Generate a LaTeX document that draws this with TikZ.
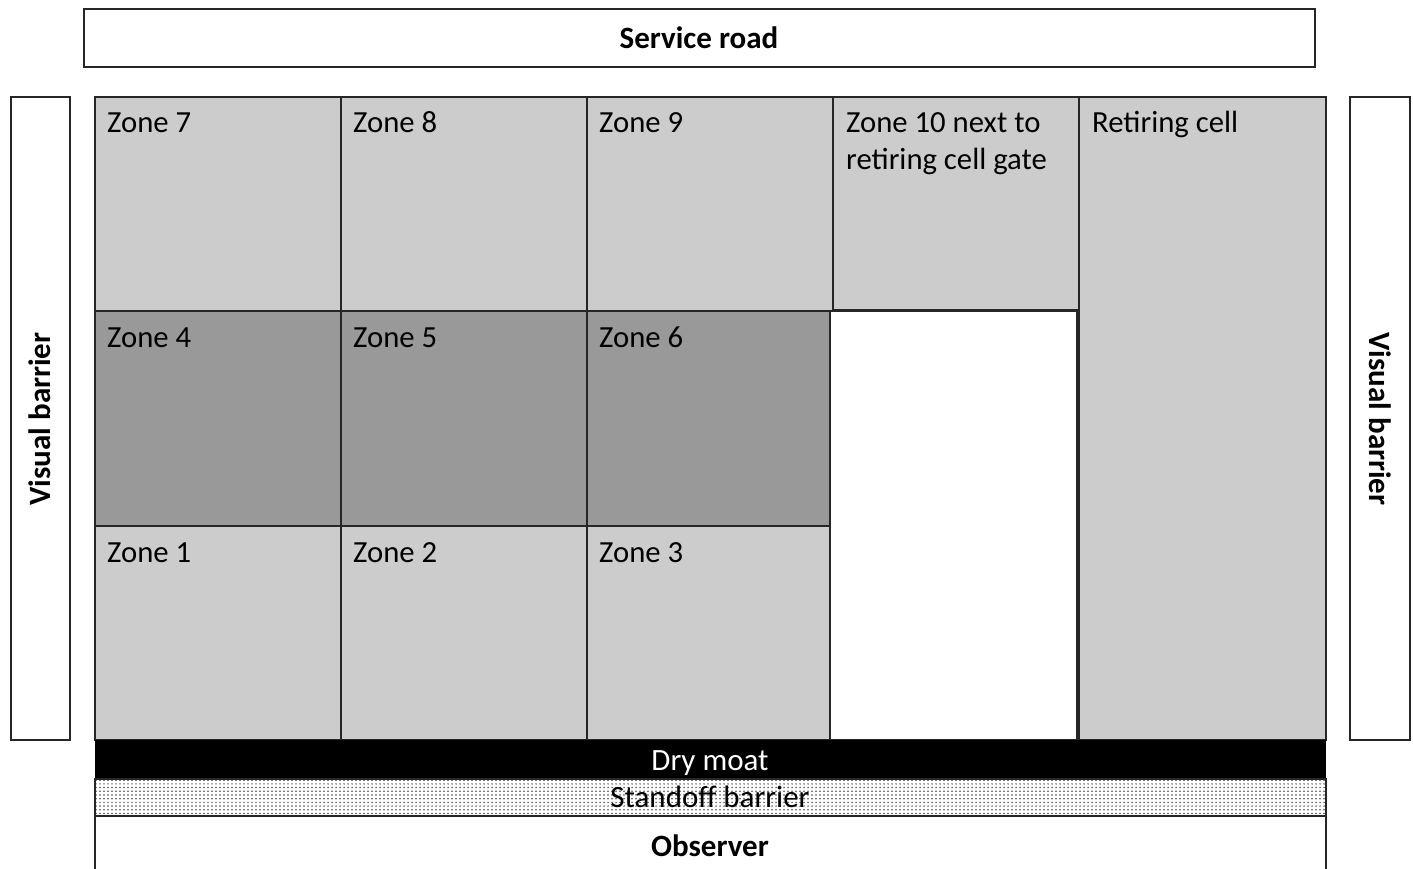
\documentclass[tikz,border=0pt]{standalone}
\usepackage{fontspec}
\setmainfont{Carlito}
\usetikzlibrary{patterns}
\definecolor{lightcell}{HTML}{CCCCCC}
\definecolor{darkcell}{HTML}{999999}
\pgfdeclarepatternformonly{standdots}{\pgfqpoint{-1pt}{-1pt}}{\pgfqpoint{1pt}{1pt}}{\pgfqpoint{4pt}{3.7pt}}{%
  \pgfpathcircle{\pgfqpoint{0pt}{0pt}}{0.85pt}\pgfusepath{fill}}
\begin{document}
\begin{tikzpicture}[x=1pt,y=-1pt,
  cellbox/.style={draw=black!85,line width=1.3pt,fill=lightcell},
  darkbox/.style={draw=black!85,line width=1.3pt,fill=darkcell},
  framebox/.style={draw=black!85,line width=1.8pt,fill=white},
  zonelabel/.style={anchor=base west,inner sep=0pt,font=\fontsize{30.7}{37}\selectfont,align=left},
  boldlabel/.style={anchor=base,font=\fontsize{31}{36}\selectfont\bfseries,inner sep=0pt},
  plainlabel/.style={anchor=base,font=\fontsize{31}{36}\selectfont,inner sep=0pt}]
\useasboundingbox (0,0) rectangle (1413,869);
\begin{scope}
\clip (0,0) rectangle (1413,869);
% service road
\draw[framebox] (84,9) rectangle (1315,67);
\node[boldlabel] (road) at (699,49) {Service road};
% visual barriers
\draw[framebox] (11,97) rectangle (70,740);
\node[boldlabel,anchor=center,rotate=90] (vbl) at (40,419) {Visual barrier};
\draw[framebox] (1350,97) rectangle (1410,740);
\node[boldlabel,anchor=center,rotate=-90] (vbr) at (1380,419) {Visual barrier};
% top row
\draw[cellbox] (95,97) rectangle (341,311);
\draw[cellbox] (341,97) rectangle (587,311);
\draw[cellbox] (587,97) rectangle (833,311);
\draw[cellbox] (833,97) rectangle (1079,310);
% middle row
\draw[darkbox] (95,311) rectangle (341,526);
\draw[darkbox] (341,311) rectangle (587,526);
\draw[darkbox] (587,311) rectangle (830,526);
% bottom row
\draw[cellbox] (95,526) rectangle (341,740);
\draw[cellbox] (341,526) rectangle (587,740);
\draw[cellbox] (587,526) rectangle (830,740);
% white area
\draw[draw=black!85,line width=1.3pt,fill=white] (830,311) rectangle (1077,740);
% retiring cell
\draw[cellbox,line width=1.6pt] (1079,97) rectangle (1326,740);
% labels
\node[zonelabel] (z7) at (107,133) {Zone 7};
\node[zonelabel] (z8) at (353,133) {Zone 8};
\node[zonelabel] (z9) at (599,133) {Zone 9};
\node[zonelabel] (z10) at (846,170) {Zone 10 next to\\retiring cell gate};
\node[zonelabel] (rc) at (1092,133) {Retiring cell};
\node[zonelabel] (z4) at (107,347) {Zone 4};
\node[zonelabel] (z5) at (353,347) {Zone 5};
\node[zonelabel] (z6) at (599,347) {Zone 6};
\node[zonelabel] (z1) at (107,562) {Zone 1};
\node[zonelabel] (z2) at (353,562) {Zone 2};
\node[zonelabel] (z3) at (599,562) {Zone 3};
% dry moat
\fill[black] (95,740) rectangle (1326,779);
\node[plainlabel,text=white] (moat) at (710,770) {Dry moat};
% standoff barrier
\fill[white] (95,779) rectangle (1326,816);
\fill[pattern=standdots,pattern color=black!70] (95,779) rectangle (1326,816);
\draw[black!85,line width=1.3pt] (95,779) rectangle (1326,816);
\node[plainlabel] (standoff) at (710,807) {Standoff barrier};
% observer
\draw[black!85,line width=1.8pt] (95,880) -- (95,816) -- (1326,816) -- (1326,880);
\node[boldlabel] (obs) at (710,856) {Observer};
\end{scope}
\end{tikzpicture}
\end{document}
